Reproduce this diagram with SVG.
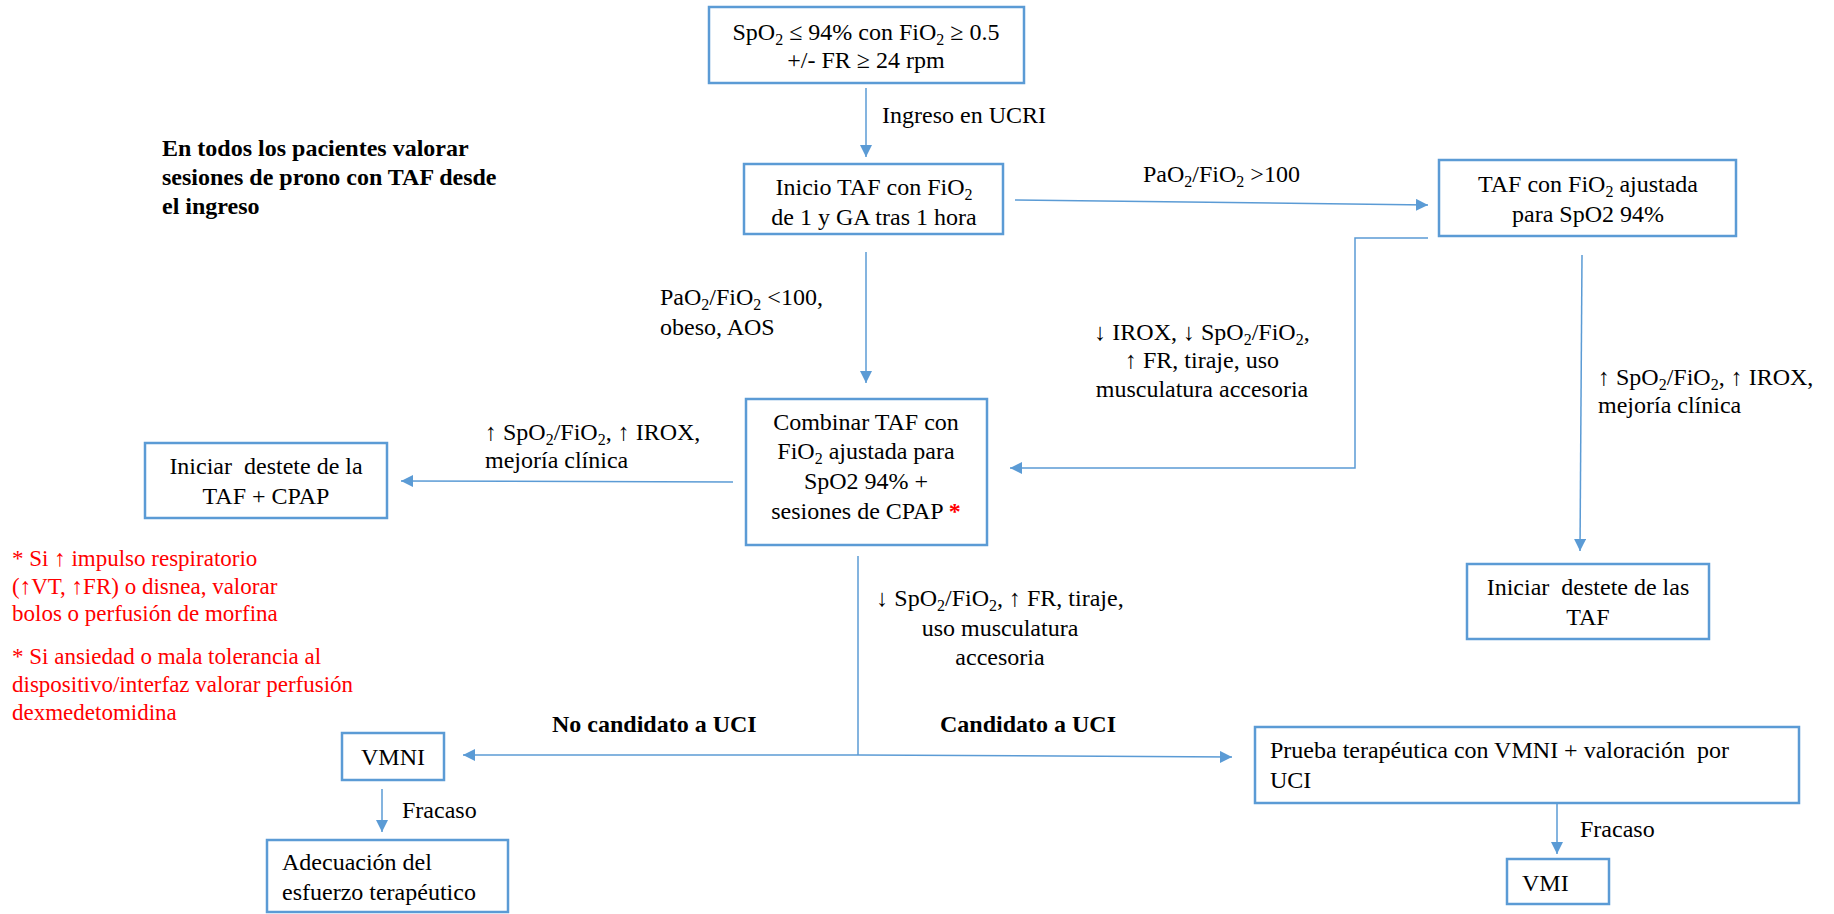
<svg xmlns="http://www.w3.org/2000/svg" width="1834" height="914" viewBox="0 0 1834 914" font-family="'Liberation Serif', 'DejaVu Serif', serif">
<style>
.box{fill:#fff;stroke:#5b9bd5;stroke-width:2.5}
.c{fill:none;stroke:#5b9bd5;stroke-width:1.5}
text{font-family:'Liberation Serif','DejaVu Serif',serif;font-size:24px;fill:#000}
.m{text-anchor:middle}
.b{font-weight:bold}
.r{fill:#ff0000;font-size:23px}
.s{font-size:16px}
</style>
<defs>
<marker id="ah" viewBox="0 0 12 12" refX="12" refY="6" markerWidth="12" markerHeight="12" markerUnits="userSpaceOnUse" orient="auto">
<path d="M0,0 L12,6 L0,12 z" fill="#5b9bd5"/>
</marker>
</defs>
<rect width="1834" height="914" fill="#fff"/>

<g id="connectors">
<line class="c" x1="866" y1="88" x2="866" y2="157" marker-end="url(#ah)"/>
<line class="c" x1="866" y1="252" x2="866" y2="383" marker-end="url(#ah)"/>
<line class="c" x1="1015" y1="200" x2="1428" y2="205" marker-end="url(#ah)"/>
<polyline class="c" points="1428,238 1355,238 1355,468 1010,468" marker-end="url(#ah)"/>
<line class="c" x1="1582" y1="255" x2="1580" y2="551" marker-end="url(#ah)"/>
<line class="c" x1="733" y1="482" x2="401" y2="481" marker-end="url(#ah)"/>
<line class="c" x1="858" y1="556" x2="858" y2="755"/>
<line class="c" x1="858" y1="755" x2="463" y2="755" marker-end="url(#ah)"/>
<line class="c" x1="858" y1="755" x2="1232" y2="757" marker-end="url(#ah)"/>
<line class="c" x1="382" y1="789" x2="382" y2="832" marker-end="url(#ah)"/>
<line class="c" x1="1557" y1="803" x2="1557" y2="854" marker-end="url(#ah)"/>
</g>

<g id="labels">
<text x="882" y="123">Ingreso en UCRI</text>
<text x="1143" y="182">PaO<tspan class="s" dy="5">2</tspan><tspan dy="-5">/FiO</tspan><tspan class="s" dy="5">2</tspan><tspan dy="-5"> &gt;100</tspan></text>
<text x="660" y="305">PaO<tspan class="s" dy="5">2</tspan><tspan dy="-5">/FiO</tspan><tspan class="s" dy="5">2</tspan><tspan dy="-5"> &lt;100,</tspan></text>
<text x="660" y="335">obeso, AOS</text>
<text class="m" x="1202" y="340">↓ IROX, ↓ SpO<tspan class="s" dy="5">2</tspan><tspan dy="-5">/FiO</tspan><tspan class="s" dy="5">2</tspan><tspan dy="-5">,</tspan></text>
<text class="m" x="1202" y="368">↑ FR, tiraje, uso</text>
<text class="m" x="1202" y="397">musculatura accesoria</text>
<text x="1598" y="385">↑ SpO<tspan class="s" dy="5">2</tspan><tspan dy="-5">/FiO</tspan><tspan class="s" dy="5">2</tspan><tspan dy="-5">, ↑ IROX,</tspan></text>
<text x="1598" y="413">mejoría clínica</text>
<text x="485" y="440">↑ SpO<tspan class="s" dy="5">2</tspan><tspan dy="-5">/FiO</tspan><tspan class="s" dy="5">2</tspan><tspan dy="-5">, ↑ IROX,</tspan></text>
<text x="485" y="468">mejoría clínica</text>
<text class="m" x="1000" y="606">↓ SpO<tspan class="s" dy="5">2</tspan><tspan dy="-5">/FiO</tspan><tspan class="s" dy="5">2</tspan><tspan dy="-5">, ↑ FR, tiraje,</tspan></text>
<text class="m" x="1000" y="636">uso musculatura</text>
<text class="m" x="1000" y="665">accesoria</text>
<text class="b" x="552" y="732">No candidato a UCI</text>
<text class="b m" x="1028" y="732">Candidato a UCI</text>
<text x="402" y="818">Fracaso</text>
<text x="1580" y="837">Fracaso</text>
</g>

<g id="note">
<text class="b" x="162" y="156">En todos los pacientes valorar</text>
<text class="b" x="162" y="185">sesiones de prono con TAF desde</text>
<text class="b" x="162" y="214">el ingreso</text>
</g>

<g id="red-notes">
<text class="r" x="12" y="566">* Si ↑ impulso respiratorio</text>
<text class="r" x="12" y="594">(↑VT, ↑FR) o disnea, valorar</text>
<text class="r" x="12" y="621">bolos o perfusión de morfina</text>
<text class="r" x="12" y="664">* Si ansiedad o mala tolerancia al</text>
<text class="r" x="12" y="692">dispositivo/interfaz valorar perfusión</text>
<text class="r" x="12" y="720">dexmedetomidina</text>
</g>

<g id="n-start">
<rect class="box" x="709" y="7" width="315" height="76"/>
<text class="m" x="866" y="40">SpO<tspan class="s" dy="5">2</tspan><tspan dy="-5"> ≤ 94% con FiO</tspan><tspan class="s" dy="5">2</tspan><tspan dy="-5"> ≥ 0.5</tspan></text>
<text class="m" x="866" y="68">+/- FR ≥ 24 rpm</text>
</g>

<g id="n-inicio">
<rect class="box" x="744" y="164" width="259" height="70"/>
<text class="m" x="874" y="195">Inicio TAF con FiO<tspan class="s" dy="5">2</tspan></text>
<text class="m" x="874" y="225">de 1 y GA tras 1 hora</text>
</g>

<g id="n-taf">
<rect class="box" x="1439" y="160" width="297" height="76"/>
<text class="m" x="1588" y="192">TAF con FiO<tspan class="s" dy="5">2</tspan><tspan dy="-5"> ajustada</tspan></text>
<text class="m" x="1588" y="222">para SpO2 94%</text>
</g>

<g id="n-combinar">
<rect class="box" x="746" y="399" width="241" height="146"/>
<text class="m" x="866" y="430">Combinar TAF con</text>
<text class="m" x="866" y="459">FiO<tspan class="s" dy="5">2</tspan><tspan dy="-5"> ajustada para</tspan></text>
<text class="m" x="866" y="489">SpO2 94% +</text>
<text class="m" x="866" y="519">sesiones de CPAP <tspan fill="#ff0000" font-weight="bold">*</tspan></text>
</g>

<g id="n-destete-cpap">
<rect class="box" x="145" y="443" width="242" height="75"/>
<text class="m" x="266" y="474">Iniciar&#160; destete de la</text>
<text class="m" x="266" y="504">TAF + CPAP</text>
</g>

<g id="n-destete-taf">
<rect class="box" x="1467" y="564" width="242" height="75"/>
<text class="m" x="1588" y="595">Iniciar&#160; destete de las</text>
<text class="m" x="1588" y="625">TAF</text>
</g>

<g id="n-vmni">
<rect class="box" x="342" y="733" width="102" height="47"/>
<text class="m" x="393" y="765">VMNI</text>
</g>

<g id="n-adecuacion">
<rect class="box" x="267" y="840" width="241" height="72"/>
<text x="282" y="870">Adecuación del</text>
<text x="282" y="900">esfuerzo terapéutico</text>
</g>

<g id="n-prueba">
<rect class="box" x="1255" y="727" width="544" height="76"/>
<text x="1270" y="758">Prueba terapéutica con VMNI + valoración&#160; por</text>
<text x="1270" y="788">UCI</text>
</g>

<g id="n-vmi">
<rect class="box" x="1507" y="859" width="102" height="45"/>
<text x="1522" y="891">VMI</text>
</g>
</svg>
